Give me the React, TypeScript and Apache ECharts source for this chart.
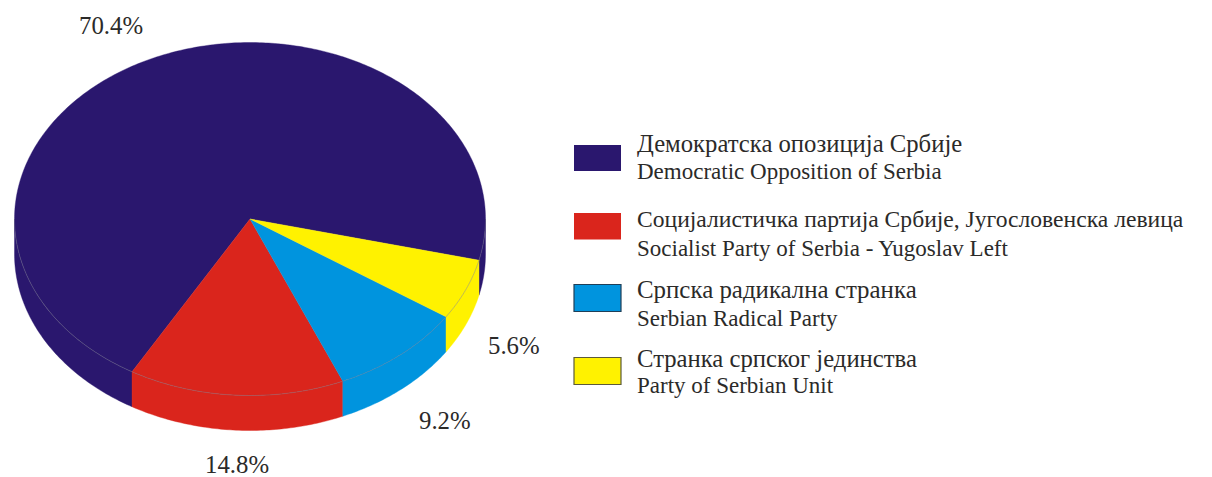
import React, { useEffect, useRef } from "react";
import * as echarts from "echarts";

const parties = [
  "Демократска опозиција Србије",
  "Социјалистичка партија Србије, Југословенска левица",
  "Српска радикална странка",
  "Странка српског јединства",
];
const partiesEn = [
  "Democratic Opposition of Serbia",
  "Socialist Party of Serbia - Yugoslav Left",
  "Serbian Radical Party",
  "Party of Serbian Unit",
];
const shares = [70.4, 14.8, 9.2, 5.6];
const colors = ["#2a176e", "#da251c", "#0094de", "#fff200"];

const CX = 250;
const CY = 219;
const RX = 235.5;
const RY = 176.5;
const DEPTH = 35;
const START_DEG = 373.5;
const INK = "#2b2a29";
const SERIF = '"Liberation Serif", "Times New Roman", serif';

const labelPos = [
  [79, 25],
  [205, 464],
  [419, 420],
  [488, 345],
];
const swatches = [
  { y: 145, h: 26, border: "" },
  { y: 213, h: 26.5, border: "" },
  { y: 284.5, h: 27, border: "#1f3f58" },
  { y: 357.5, h: 27, border: "#5c5a3a" },
];
const textRows = [
  [143, 171],
  [219, 248],
  [289, 318],
  [358, 385],
];
const rowFont = [
  [24.7, 23],
  [23.6, 23],
  [24.9, 23],
  [24.7, 23],
];

const rad = (d: number) => (d * Math.PI) / 180;
const rim = (deg: number, dy = 0) => [
  CX + RX * Math.cos(rad(deg)),
  CY + dy + RY * Math.sin(rad(deg)),
];
const arc = (from: number, to: number, dy = 0) => {
  const n = Math.max(2, Math.ceil(Math.abs(to - from) / 0.75));
  const pts: number[][] = [];
  for (let i = 0; i <= n; i++) pts.push(rim(from + ((to - from) * i) / n, dy));
  return pts;
};
const angleOf = (cum: number) =>
  echarts.number.linearMap(cum, [0, 100], [START_DEG, START_DEG - 360]);

function renderSlice(params: any, api: any) {
  const i = params.dataIndex;
  const value = api.value(0);
  let cum = 0;
  for (let k = 0; k < i; k++) cum += shares[k];
  const a0 = angleOf(cum);
  const a1 = angleOf(cum + value);
  const fill = colors[i];
  const children: any[] = [];

  // Front wall: only the parts of the slice on the near half of the ellipse.
  for (const off of [0, 360]) {
    const lo = Math.max(a1, off);
    const hi = Math.min(a0, off + 180);
    if (hi > lo) {
      const top = arc(lo, hi);
      const bottom = arc(hi, lo, DEPTH);
      children.push({
        type: "polygon",
        shape: { points: [...top, ...bottom] },
        style: { fill, stroke: fill, lineWidth: 0.4 },
      });
    }
  }
  children.push({
    type: "polygon",
    shape: { points: [[CX, CY], ...arc(a1, a0)] },
    style: { fill, stroke: fill, lineWidth: 0.4 },
    z2: 5,
  });
  for (const off of [0, 360]) {
    const lo = Math.max(a1, off);
    const hi = Math.min(a0, off + 180);
    if (hi > lo) {
      children.push({
        type: "polyline",
        shape: { points: arc(lo, hi) },
        style: { fill: "none", stroke: "#77778a", lineWidth: 0.6, opacity: 0.75 },
        z2: 6,
      });
    }
  }
  return { type: "group", children };
}

export default function App() {
  const ref = useRef<HTMLDivElement>(null);
  useEffect(() => {
    const chart = echarts.init(ref.current!, undefined, { renderer: "svg" });
    const graphic: any[] = [];
    shares.forEach((v, i) => {
      graphic.push({
        type: "text",
        x: labelPos[i][0],
        y: labelPos[i][1],
        style: {
          text: `${v.toFixed(1)}%`,
          fill: INK,
          font: `24.8px ${SERIF}`,
          textAlign: "left",
          textVerticalAlign: "middle",
        },
      });
      const s = swatches[i];
      graphic.push({
        type: "rect",
        shape: { x: 574, y: s.y, width: 47, height: s.h },
        style: {
          fill: colors[i],
          stroke: s.border || undefined,
          lineWidth: s.border ? 1.2 : 0,
        },
      });
      [parties[i], partiesEn[i]].forEach((t, r) => {
        graphic.push({
          type: "text",
          x: 637,
          y: textRows[i][r],
          style: {
            text: t,
            fill: INK,
            font: `${rowFont[i][r]}px ${SERIF}`,
            textAlign: "left",
            textVerticalAlign: "middle",
          },
        });
      });
    });
    chart.setOption({
      animation: false,
      backgroundColor: "#ffffff",
      graphic,
      series: [
        {
          type: "custom",
          coordinateSystem: "none",
          renderItem: renderSlice,
          data: shares.map((v) => [v]),
          silent: true,
        },
      ],
    });
    return () => chart.dispose();
  }, []);
  return (
    <div
      ref={ref}
      style={{ position: "absolute", left: 0, top: 0, width: 1212, height: 477 }}
    />
  );
}
